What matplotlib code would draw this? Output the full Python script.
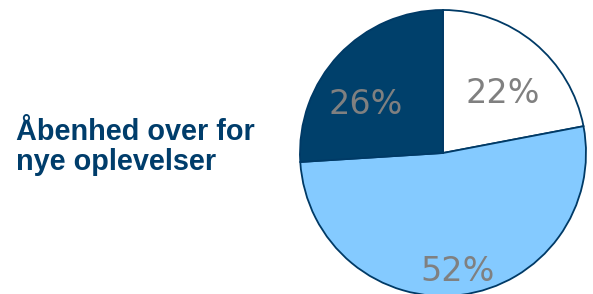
import matplotlib.pyplot as plt
import numpy as np

# data
categories = ['Enig', 'Neutral', 'Uenig']
shares = [22, 52, 26]
title = 'Åbenhed over for\nnye oplevelser'

slice_colors = ['#ffffff', '#84caff', '#00406b']
edge_color = '#003a66'
# label placement: distance from centre and angle shift (degrees) from slice middle
label_dist = [0.61, 0.81, 0.65]
label_shift = [-4, 0, 9]

fig = plt.figure(figsize=(5.93, 2.94), dpi=100)
fig.patch.set_facecolor('white')

# title text on the left
fig.text(16 / 593, 1 - 147 / 294, title, ha='left', va='center',
         fontsize=20.8, fontweight='bold', color='#003d6b',
         family='Liberation Sans', linespacing=1.12)

ax = fig.add_axes([300 / 593, -2 / 294, 286 / 593, 286 / 294])
wedges, texts, pcts = ax.pie(
    shares, startangle=90, counterclock=False, colors=slice_colors,
    autopct='%d%%', pctdistance=0.62,
    wedgeprops=dict(edgecolor=edge_color, linewidth=1.3),
    textprops=dict(color='#808080', fontsize=24))

# move each percentage label to its own spot
for w, t, d, s in zip(wedges, pcts, label_dist, label_shift):
    ang = np.deg2rad((w.theta1 + w.theta2) / 2 + s)
    t.set_position((d * np.cos(ang), d * np.sin(ang)))
    t.set_va('center_baseline')

ax.set_xlim(-1, 1)
ax.set_ylim(-1, 1)
ax.set_aspect('equal')
ax.axis('off')

fig.savefig('out.png', dpi=100)
